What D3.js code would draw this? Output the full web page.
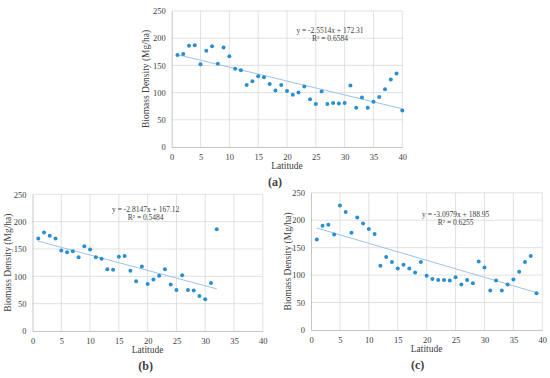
<!DOCTYPE html>
<html><head><meta charset="utf-8">
<script src="https://cdn.jsdelivr.net/npm/d3@7"></script>
<style>
body{margin:0;background:#fff;}
svg{display:block;}
text{font-family:"Liberation Serif","Times New Roman",serif;fill:#404040;}
</style></head>
<body><svg id="c" width="550" height="378"></svg>
<script>
const latA = d3.range(1, 41);
const valA = [169,171,186,187,152,177,185,153,183,167,144,141,114,121,130,128,116,104,114,103,96,100,111,88,79,102,79,81,80,81,113,72,91,72,83,92,106,124,135,67];
const latB = d3.range(1, 33);
const valB = [169,180,174,169,147,144,146,135,155,149,135,132,113,112,136,137,110,91,118,86,94,101,113,85,75,102,75,74,64,58,88,186];
const latC = d3.range(1, 40);
const valC = [165,190,192,174,227,215,177,205,194,184,175,117,133,124,112,119,112,105,124,99,93,91,91,90,96,83,91,85,125,114,72,90,72,83,92,106,124,135,67];
const xTicks = [0,5,10,15,20,25,30,35,40];
const yTicks = [0,50,100,150,200,250];
const panels = [
  {lat: latA, val: valA, slope: -2.5514, icpt: 172.31, eq: "y = -2.5514x + 172.31", r2: "R² = 0.6584", label: "(a)"},
  {lat: latB, val: valB, slope: -2.8147, icpt: 167.12, eq: "y = -2.8147x + 167.12", r2: "R² = 0.5484", label: "(b)"},
  {lat: latC, val: valC, slope: -3.0979, icpt: 188.95, eq: "y = -3.0979x + 188.95", r2: "R² = 0.6255", label: "(c)"}
];
const geom = [
  {x0:171.7, x1:402.3, y0:147, y1:11, eqx:330, eqy:33, tx:146, lx:275, ly:186},
  {x0:32.5, x1:262.8, y0:331, y1:194.3, eqx:145.7, eqy:212, tx:7.5, lx:145.7, ly:370},
  {x0:311, x1:542.3, y0:330, y1:192.8, eqx:455.7, eqy:217, tx:288, lx:417.7, ly:369}
];
const FONT = "Liberation Serif, Times New Roman, serif";
const svg = d3.select("#c");
panels.forEach((p, i) => {
  const g = geom[i];
  const x = d3.scaleLinear().domain([0,40]).range([g.x0, g.x1]);
  const y = d3.scaleLinear().domain([0,250]).range([g.y0, g.y1]);
  const gr = svg.append("g");
  gr.selectAll(".vg").data(xTicks.slice(1)).join("line")
    .attr("x1", d=>x(d)).attr("x2", d=>x(d)).attr("y1", y(0)).attr("y2", y(250))
    .attr("stroke", "#d9d9d9").attr("stroke-width", 0.8);
  gr.selectAll(".hg").data(yTicks.slice(1)).join("line")
    .attr("x1", x(0)).attr("x2", x(40)).attr("y1", d=>y(d)).attr("y2", d=>y(d))
    .attr("stroke", "#d9d9d9").attr("stroke-width", 0.8);
  const xa = gr.append("g").attr("transform", `translate(0,${y(0)})`)
    .call(d3.axisBottom(x).tickValues(xTicks).tickSize(0).tickPadding(7));
  const ya = gr.append("g").attr("transform", `translate(${x(0)},0)`)
    .call(d3.axisLeft(y).tickValues(yTicks).tickSize(0).tickPadding(6));
  [xa, ya].forEach(a => {
    a.attr("font-family", FONT);
    a.select(".domain").attr("stroke", "#bfbfbf").attr("stroke-width", 0.9);
    a.selectAll("text").attr("font-size", 8.5).attr("fill", "#404040");
  });
  const ext = d3.extent(p.lat);
  gr.append("line")
    .attr("x1", x(ext[0])).attr("y1", y(p.slope*ext[0]+p.icpt))
    .attr("x2", x(ext[1])).attr("y2", y(p.slope*ext[1]+p.icpt))
    .attr("stroke", "#9dc3e6").attr("stroke-width", 1);
  gr.selectAll(".pt").data(p.lat.map((d,k)=>[d,p.val[k]])).join("circle")
    .attr("cx", d=>x(d[0])).attr("cy", d=>y(d[1])).attr("r", 2)
    .attr("fill", "#2a8fd0");
  gr.append("text").attr("x", g.eqx).attr("y", g.eqy).attr("text-anchor","middle")
    .attr("font-size", 7.5).text(p.eq);
  gr.append("text").attr("x", g.eqx).attr("y", g.eqy+7.5).attr("text-anchor","middle")
    .attr("font-size", 7.5).text(p.r2);
  gr.append("text").attr("x", (g.x0+g.x1)/2).attr("y", g.y0+22).attr("text-anchor","middle")
    .attr("font-size", 9.5).text("Latitude");
  gr.append("text").attr("transform", `translate(${g.tx},${(g.y0+g.y1)/2}) rotate(-90)`)
    .attr("text-anchor","middle").attr("dominant-baseline","central")
    .attr("font-size", 9.5).text("Biomass Density (Mg/ha)");
  gr.append("text").attr("x", g.lx).attr("y", g.ly).attr("text-anchor","middle")
    .attr("font-size", 12).attr("font-weight","bold").attr("fill","#000").text(p.label);
});
</script></body></html>
